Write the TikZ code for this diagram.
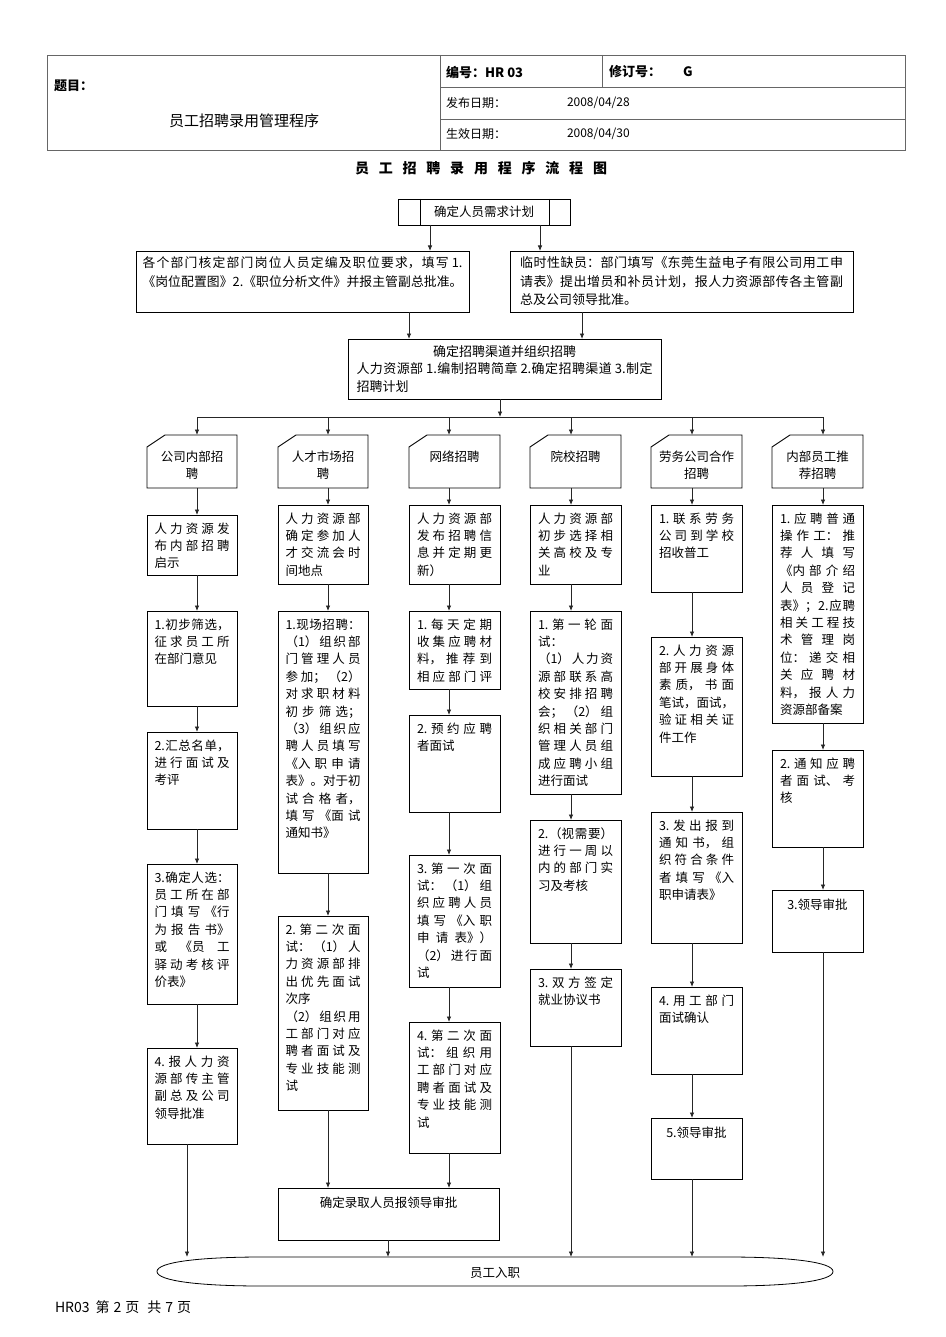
\documentclass[tikz,border=0pt]{standalone}
\usepackage{fontspec}
\setmainfont{Noto Sans CJK SC}
\usetikzlibrary{arrows.meta,calc}
\XeTeXlinebreaklocale "zh"
\XeTeXlinebreakskip=0pt plus 8pt
\newcommand\fsz[1]{\fontsize{#1pt}{#1pt}\selectfont}
\newcommand\brk{\linebreak}
\newcommand\tb[2]{\parbox[t][#1pt][t]{75pt}{\fontsize{12.5pt}{17.4pt}\selectfont\rule{0pt}{18pt}#2}}
\newcommand\tbc[2]{\parbox[t][#1pt][t]{75pt}{\fontsize{12.5pt}{17.4pt}\selectfont\centering\rule{0pt}{19pt}#2}}
\newcommand\hdtxt[1]{\parbox[t][53pt][t]{75pt}{\centering\fontsize{12.5pt}{17pt}\selectfont\rule{0pt}{26.5pt}#1}}
\newcommand\cardline[1]{\draw[bline] (#1.south west) -- ([yshift=-12pt]#1.north west) -- ([xshift=18pt]#1.north west) -- (#1.north east) -- (#1.south east) -- cycle;}
\tikzset{
  bline/.style={draw=black, line width=0.9pt},
  tline/.style={draw=black!60, line width=0.9pt},
  cbox/.style={bline, anchor=north west, inner xsep=7.5pt, inner ysep=0pt, outer sep=0pt},
  wbox/.style={cbox, inner xsep=8pt},
  card/.style={anchor=north west, inner xsep=7.5pt, inner ysep=0pt, outer sep=0pt},
  wcard/.style={card, inner xsep=8pt},
  ln/.style={draw=black!85, line width=0.8pt},
  arr/.style={ln, -{Latex[length=5.5pt,width=4.5pt]}},
  txt/.style={inner sep=0pt, outer sep=0pt},
}
\begin{document}
\begin{tikzpicture}[x=1pt,y=-1pt]
\fill[white] (0,0) rectangle (945,1337);
\useasboundingbox (0,0) rectangle (945,1337);

% ---------- header table ----------
\draw[tline] (47,55) rectangle (905,150);
\draw[tline] (440,55) -- (440,150);
\draw[tline] (440,87) -- (905,87);
\draw[tline] (440,119) -- (905,119);
\draw[tline] (602,55) -- (602,87);
\node[txt, anchor=west, font=\fsz{13}\bfseries] (tm) at (54,86) {题目：};
\node[txt, font=\fsz{15}] (tn) at (244,121) {员工招聘录用管理程序};
\node[txt, anchor=west, font=\fsz{13}\bfseries] (bh) at (446,72) {编号：HR 03};
\node[txt, anchor=west, font=\fsz{13}\bfseries] (xd) at (609,72) {修订号：\hspace{22pt}G};
\node[txt, anchor=west, font=\fsz{12}] (fb) at (446,103) {发布日期：};
\node[txt, anchor=west, font=\fsz{12}] (fbd) at (567,103) {2008/04/28};
\node[txt, anchor=west, font=\fsz{12}] (sx) at (446,134) {生效日期：};
\node[txt, anchor=west, font=\fsz{12}] (sxd) at (567,134) {2008/04/30};

% ---------- title ----------
\node[txt, font=\fsz{14}\bfseries] (title) at (481,168) {\makebox[252pt][s]{员\hfil 工\hfil 招\hfil 聘\hfil 录\hfil 用\hfil 程\hfil 序\hfil 流\hfil 程\hfil 图}};

% ---------- top flow ----------
\node[bline, minimum width=172pt, minimum height=26pt, inner sep=0pt, outer sep=0pt, font=\fsz{12.5}] (A) at (484,212) {确定人员需求计划};
\draw[bline] ([xshift=22pt]A.north west) -- ([xshift=22pt]A.south west);
\draw[bline] ([xshift=-21pt]A.north east) -- ([xshift=-21pt]A.south east);

\node[cbox, inner xsep=6.5pt] (B) at (136,251) {\parbox[t][61pt][t]{320pt}{\fontsize{12.8pt}{18.3pt}\selectfont\parfillskip=0pt\relax\rule{0pt}{17pt}各个部门核定部门岗位人员定编及职位要求，填写 1.\brk《岗位配置图》2.《职位分析文件》并报主管副总批准。}};
\node[cbox, inner xsep=10pt] (C) at (510,251) {\parbox[t][61pt][t]{323pt}{\fontsize{13pt}{18.3pt}\selectfont\rule{0pt}{17pt}临时性缺员：部门填写《东莞生益电子有限公司用工申\brk 请表》提出增员和补员计划，报人力资源部传各主管副\brk 总及公司领导批准。}};
\node[cbox, inner xsep=8.5pt] (D) at (348,339) {\parbox[t][60pt][t]{296pt}{\fontsize{13pt}{17.8pt}\selectfont\rule{0pt}{17pt}\hfill 确定招聘渠道并组织招聘\hfill\null\par 人力资源部 1.编制招聘简章 2.确定招聘渠道 3.制定\brk 招聘计划}};

\coordinate (xAB) at (430,0);
\coordinate (xAC) at (540,0);
\coordinate (xBD) at (409,0);
\coordinate (xCD) at (582,0);
\coordinate (xD) at (500,0);
\draw[arr] (A.south -| xAB) -- (B.north -| xAB);
\draw[arr] (A.south -| xAC) -- (C.north -| xAC);
\draw[arr] (B.south -| xBD) -- (D.north -| xBD);
\draw[arr] (C.south -| xCD) -- (D.north -| xCD);

% column x positions
\coordinate (x1) at (197,0);
\coordinate (x2) at (328,0);
\coordinate (x3) at (449,0);
\coordinate (x4) at (571,0);
\coordinate (x5) at (692,0);
\coordinate (x6) at (823,0);
\coordinate (x1e) at (187,0);
\coordinate (xE) at (388,0);
\coordinate (bus) at (0,417);

% ---------- column headers ----------
\node[card] (h1) at (147,435) {\hdtxt{公司内部招\\聘}};
\node[card] (h2) at (278,435) {\hdtxt{人才市场招\\聘}};
\node[wcard] (h3) at (409,435) {\hdtxt{网络招聘}};
\node[wcard] (h4) at (530,435) {\hdtxt{院校招聘}};
\node[wcard] (h5) at (651,435) {\hdtxt{劳务公司合作\\招聘}};
\node[wcard] (h6) at (772,435) {\hdtxt{内部员工推\\荐招聘}};
\cardline{h1}
\cardline{h2}
\cardline{h3}
\cardline{h4}
\cardline{h5}
\cardline{h6}

\draw[arr] (D.south -| xD) -- (bus -| xD);
\draw[ln] (bus -| x1) -- (bus -| x6);
\draw[arr] (bus -| x1) -- (h1.north -| x1);
\draw[arr] (bus -| x2) -- (h2.north -| x2);
\draw[arr] (bus -| x3) -- (h3.north -| x3);
\draw[arr] (bus -| x4) -- (h4.north -| x4);
\draw[arr] (bus -| x5) -- (h5.north -| x5);
\draw[arr] (bus -| x6) -- (h6.north -| x6);

% ---------- column 1 ----------
\node[cbox] (c1a) at (147,515) {\tb{60}{人力资源发\brk 布内部招聘\brk 启示}};
\node[cbox] (c1b) at (147,611) {\tb{95}{1.初步筛选，\brk 征求员工所\brk 在部门意见}};
\node[cbox] (c1c) at (147,732) {\tb{97}{2.汇总名单，\brk 进行面试及\brk 考评}};
\node[cbox] (c1d) at (147,864) {\tb{140}{3.确定人选：\brk 员工所在部\brk 门填写《行\brk 为报告书》\brk 或《员工\brk 驿动考核评\brk 价表》}};
\node[cbox] (c1e) at (147,1048) {\tb{96}{4.报人力资\brk 源部传主管\brk 副总及公司\brk 领导批准}};
\draw[arr] (h1.south -| x1) -- (c1a.north -| x1);
\draw[arr] (c1a.south -| x1) -- (c1b.north -| x1);
\draw[arr] (c1b.south -| x1) -- (c1c.north -| x1);
\draw[arr] (c1c.south -| x1) -- (c1d.north -| x1);
\draw[arr] (c1d.south -| x1) -- (c1e.north -| x1);

% ---------- column 2 ----------
\node[cbox] (c2a) at (278,505) {\tb{79}{人力资源部\brk 确定参加人\brk 才交流会时\brk 间地点}};
\node[cbox] (c2b) at (278,611) {\tb{262}{1.现场招聘：\brk （1）组织部\brk 门管理人员\brk 参加；（2）\brk 对求职材料\brk 初步筛选；\brk （3）组织应\brk 聘人员填写\brk 《入职申请\brk 表》。对于初\brk 试合格者，\brk 填写《面试\brk 通知书》}};
\node[cbox] (c2c) at (278,916) {\tb{194}{2.第二次面\brk 试：（1）人\brk 力资源部排\brk 出优先面试\brk 次序\newline （2）组织用\brk 工部门对应\brk 聘者面试及\brk 专业技能测\brk 试}};
\draw[arr] (h2.south -| x2) -- (c2a.north -| x2);
\draw[arr] (c2a.south -| x2) -- (c2b.north -| x2);
\draw[arr] (c2b.south -| x2) -- (c2c.north -| x2);

% ---------- column 3 ----------
\node[wbox] (c3a) at (409,505) {\tb{79}{人力资源部\brk 发布招聘信\brk 息并定期更\brk 新）}};
\node[wbox] (c3b) at (409,611) {\tb{78}{\parfillskip=0pt\relax 1.每天定期\brk 收集应聘材\brk 料，推荐到\brk 相应部门评}};
\node[wbox] (c3c) at (409,715) {\tb{97}{2.预约应聘\brk 者面试}};
\node[wbox] (c3d) at (409,855) {\tb{132}{3.第一次面\brk 试：（1）组\brk 织应聘人员\brk 填写《入职\brk 申请表》）\brk （2）进行面\brk 试}};
\node[wbox] (c3e) at (409,1022) {\tb{131}{4.第二次面\brk 试：组织用\brk 工部门对应\brk 聘者面试及\brk 专业技能测\brk 试}};
\draw[arr] (h3.south -| x3) -- (c3a.north -| x3);
\draw[arr] (c3a.south -| x3) -- (c3b.north -| x3);
\draw[arr] (c3b.south -| x3) -- (c3c.north -| x3);
\draw[arr] (c3c.south -| x3) -- (c3d.north -| x3);
\draw[arr] (c3d.south -| x3) -- (c3e.north -| x3);

% ---------- column 4 ----------
\node[wbox] (c4a) at (530,505) {\tb{79}{人力资源部\brk 初步选择相\brk 关高校及专\brk 业}};
\node[wbox] (c4b) at (530,611) {\tb{183}{1.第一轮面\brk 试：\newline （1）人力资\brk 源部联系高\brk 校安排招聘\brk 会；（2）组\brk 织相关部门\brk 管理人员组\brk 成应聘小组\brk 进行面试}};
\node[wbox] (c4c) at (530,820) {\tb{123}{2.（视需要）\brk 进行一周以\brk 内的部门实\brk 习及考核}};
\node[wbox] (c4d) at (530,969) {\tb{77}{3.双方签定\brk 就业协议书}};
\draw[arr] (h4.south -| x4) -- (c4a.north -| x4);
\draw[arr] (c4a.south -| x4) -- (c4b.north -| x4);
\draw[arr] (c4b.south -| x4) -- (c4c.north -| x4);
\draw[arr] (c4c.south -| x4) -- (c4d.north -| x4);

% ---------- column 5 ----------
\node[wbox] (c5a) at (651,505) {\tb{87}{1.联系劳务\brk 公司到学校\brk 招收普工}};
\node[wbox] (c5b) at (651,637) {\tb{139}{2.人力资源\brk 部开展身体\brk 素质，书面\brk 笔试，面试，\brk 验证相关证\brk 件工作}};
\node[wbox] (c5c) at (651,812) {\tb{131}{3.发出报到\brk 通知书，组\brk 织符合条件\brk 者填写《入\brk 职申请表》}};
\node[wbox] (c5d) at (651,987) {\tb{87}{4.用工部门\brk 面试确认}};
\node[wbox] (c5e) at (651,1118) {\tbc{61}{5.领导审批}};
\draw[arr] (h5.south -| x5) -- (c5a.north -| x5);
\draw[arr] (c5a.south -| x5) -- (c5b.north -| x5);
\draw[arr] (c5b.south -| x5) -- (c5c.north -| x5);
\draw[arr] (c5c.south -| x5) -- (c5d.north -| x5);
\draw[arr] (c5d.south -| x5) -- (c5e.north -| x5);

% ---------- column 6 ----------
\node[wbox] (c6a) at (772,505) {\tb{218}{1.应聘普通\brk 操作工：推\brk 荐人填写\brk 《内部介绍\brk 人员登记\brk 表》；2.应聘\brk 相关工程技\brk 术管理岗\brk 位：递交相\brk 关应聘材\brk 料，报人力\brk 资源部备案}};
\node[wbox] (c6b) at (772,750) {\tb{97}{2.通知应聘\brk 者面试、考\brk 核}};
\node[wbox] (c6c) at (772,890) {\tbc{62}{3.领导审批}};
\draw[arr] (h6.south -| x6) -- (c6a.north -| x6);
\draw[arr] (c6a.south -| x6) -- (c6b.north -| x6);
\draw[arr] (c6b.south -| x6) -- (c6c.north -| x6);

% ---------- approval box ----------
\node[cbox] (E) at (278,1188) {\parbox[t][52pt][t]{206pt}{\fontsize{12.5pt}{17.4pt}\selectfont\centering\rule{0pt}{19pt}确定录取人员报领导审批}};
\draw[arr] (c2c.south -| x2) -- (E.north -| x2);
\draw[arr] (c3e.south -| x3) -- (E.north -| x3);

% ---------- final terminator ----------
\coordinate (etop) at (495,1257);
\draw[bline, line width=0.8pt] (157,1271.5) .. controls (157,1262) and (200,1257) .. (262,1257) -- (728,1257) .. controls (790,1257) and (833,1262) .. (833,1271.5) .. controls (833,1281) and (790,1286) .. (728,1286) -- (262,1286) .. controls (200,1286) and (157,1281) .. (157,1271.5) -- cycle;
\node[txt, font=\fsz{12.5}] (EJ) at (495,1273) {员工入职};
\draw[arr] (c1e.south -| x1e) -- (etop -| x1e);
\draw[arr] (E.south -| xE) -- (etop -| xE);
\draw[arr] (c4d.south -| x4) -- (etop -| x4);
\draw[arr] (c5e.south -| x5) -- (etop -| x5);
\draw[arr] (c6c.south -| x6) -- (etop -| x6);

% ---------- footer ----------
\node[txt, anchor=west, font=\fsz{14}] (ft) at (55,1307) {HR03\hspace{6pt}第\hspace{4pt}2\hspace{4pt}页\hspace{8pt}共\hspace{4pt}7\hspace{4pt}页};
\end{tikzpicture}
\end{document}
